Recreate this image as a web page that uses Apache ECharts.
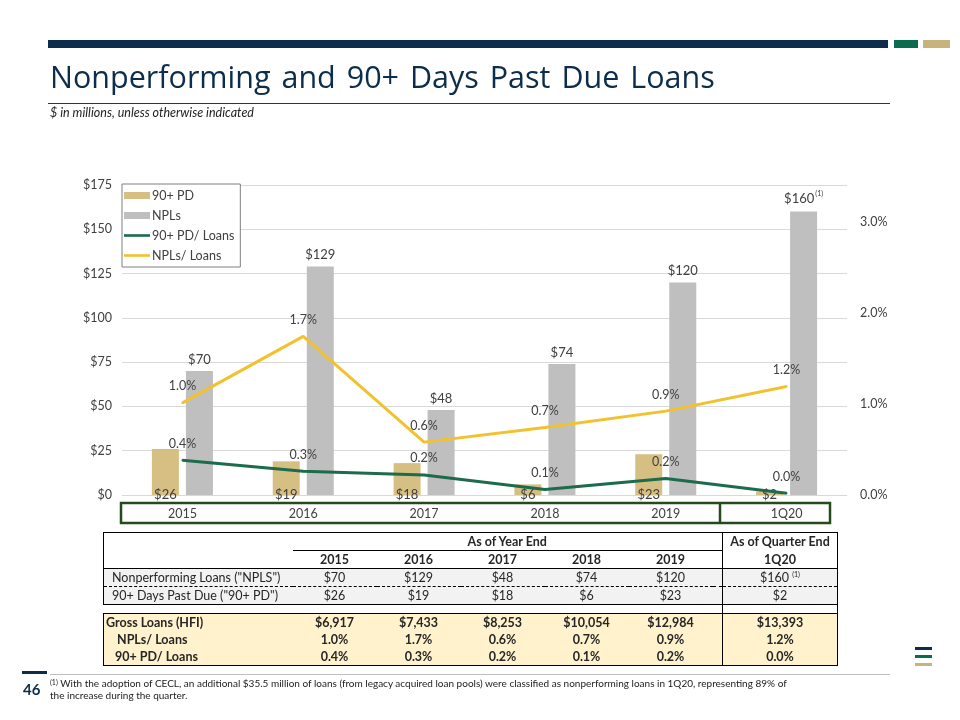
<!DOCTYPE html>
<html><head><meta charset="utf-8">
<script src="https://cdn.jsdelivr.net/npm/echarts@6.0.0/dist/echarts.min.js"></script>
<style>
body{margin:0;width:960px;height:720px;background:#fff;font-family:Lato,'Open Sans',sans-serif;overflow:hidden;position:relative;color:#222}
#chart{position:absolute;left:0;top:0;width:960px;height:720px}
.abs{position:absolute;z-index:2}
#tbl{position:absolute;left:103px;top:532px;z-index:2;border-collapse:collapse;table-layout:fixed;font-size:12.5px;color:#262626}
#tbl td{height:17px;padding:0;text-align:center;line-height:17px;white-space:nowrap}
#tbl td.lab{text-align:left}
sup{font-size:7px;vertical-align:top;line-height:10px}
</style></head><body>
<div id="chart"></div>
<div class="abs" style="left:48px;top:40px;width:840px;height:8px;background:#0C2D4C"></div>
<div class="abs" style="left:894px;top:40px;width:24px;height:8px;background:#0B6B4E"></div>
<div class="abs" style="left:923px;top:40px;width:27px;height:8px;background:#C8B47A"></div>
<div class="abs" style="left:50px;top:55px;font-family:'Open Sans',sans-serif;font-size:30.5px;color:#0C2D4C;word-spacing:3px;white-space:nowrap">Nonperforming and 90+ Days Past Due Loans</div>
<div class="abs" style="left:48px;top:103px;width:842px;height:1px;background:#333"></div>
<div class="abs" style="left:50px;top:105px;font-size:12.5px;font-style:italic;color:#222;white-space:nowrap">$ in millions, unless otherwise indicated</div>
<table id="tbl"></table>
<div class="abs" style="left:22px;top:671px;width:25px;height:3px;background:#0C2D4C"></div>
<div class="abs" style="left:50px;top:674px;width:840px;height:1px;background:#BFBFBF"></div>
<div class="abs" style="left:23px;top:680px;font-size:15px;font-weight:700;color:#0C2D4C">46</div>
<div class="abs" style="left:50px;top:677px;font-size:10px;line-height:12px;color:#222;white-space:nowrap"><sup>(1)</sup> With the adoption of CECL, an additional $35.5 million of loans (from legacy acquired loan pools) were classified as nonperforming loans in 1Q20, representing 89% of<br>the increase during the quarter.</div>
<div class="abs" style="left:915px;top:647px;width:17px;height:3px;background:#0C2D4C"></div>
<div class="abs" style="left:915px;top:655px;width:17px;height:3px;background:#0B6B4E"></div>
<div class="abs" style="left:915px;top:663px;width:17px;height:3px;background:#C8B47A"></div>
<script>
const categories = ['2015', '2016', '2017', '2018', '2019', '1Q20'];
const npls = [70, 129, 48, 74, 120, 160];
const pd90 = [26, 19, 18, 6, 23, 2];
const grossLoans = [6917, 7433, 8253, 10054, 12984, 13393];
const nplRatio = [1.01, 1.74, 0.58, 0.74, 0.92, 1.19];
const pdRatio = [0.38, 0.26, 0.22, 0.06, 0.18, 0.02];
const leftTicks = [0, 25, 50, 75, 100, 125, 150, 175];
const rightTicks = [0, 1, 2, 3];

const C = {gold:'#D6BF82', grey:'#BFBFBF', green:'#1B6B4C', yellow:'#F2C12E', txt:'#404040', navy:'#0C2D4C'};
const money = v => '$' + v.toLocaleString('en-US');
const pct = v => v.toFixed(1) + '%';

const chart = echarts.init(document.getElementById('chart'), null, {renderer:'canvas'});
chart.setOption({
  animation:false,
  textStyle:{fontFamily:'Lato, sans-serif'},
  grid:{left:122, right:113, top:185, bottom:225, containLabel:false},
  legend:{
    orient:'vertical', left:122, top:184, padding:[5,6,5,2], itemGap:7,
    borderColor:'#7F7F7F', borderWidth:1, backgroundColor:'#fff',
    itemWidth:26, itemHeight:7, textStyle:{fontSize:12.5, color:C.txt, padding:[0,0,0,-3]},
    data:[
      {name:'90+ PD', icon:'rect'},
      {name:'NPLs', icon:'rect'},
      {name:'90+ PD/ Loans', icon:'path://M0,0h30v3h-30z'},
      {name:'NPLs/ Loans', icon:'path://M0,0h30v3h-30z'}
    ]
  },
  xAxis:{type:'category', data:categories, axisLine:{show:false}, axisTick:{show:false},
    axisLabel:{color:C.txt, fontSize:12.5, margin:12}},
  yAxis:[
    {type:'value', min:leftTicks[0], max:leftTicks[leftTicks.length-1], interval:25,
      axisLabel:{color:C.txt, fontSize:12.5, margin:10, formatter:v=>'$'+v},
      splitLine:{lineStyle:{color:'#D9D9D9'}}, axisLine:{show:false}, axisTick:{show:false}},
    {type:'value', min:0, max:3.4, interval:1, position:'right',
      axisLabel:{color:C.txt, fontSize:12.5, margin:13, formatter:v=>rightTicks.includes(v)?v.toFixed(1)+'%':''},
      splitLine:{show:false}, axisLine:{show:false}, axisTick:{show:false}}
  ],
  series:[
    {name:'90+ PD', type:'bar', data:pd90, barWidth:27, barGap:'26%', itemStyle:{color:C.gold},
      label:{show:true, position:'bottom', distance:-7, color:C.txt, fontSize:13, formatter:p=>'$'+p.value}},
    {name:'NPLs', type:'bar', data:npls, barWidth:27, itemStyle:{color:C.grey},
      label:{show:true, position:'top', distance:5, color:C.txt, fontSize:13,
        formatter:p=> p.dataIndex===npls.length-1 ? '{v|$'+p.value+'}{s|(1)}' : '$'+p.value,
        rich:{v:{fontSize:13, color:C.txt}, s:{fontSize:7, color:C.txt, verticalAlign:'top', padding:[0,0,9,1]}}}},
    {name:'90+ PD/ Loans', type:'line', yAxisIndex:1, data:pdRatio, symbol:'circle', symbolSize:2,
      lineStyle:{color:C.green, width:3}, itemStyle:{color:C.green},
      label:{show:true, position:'top', distance:9, color:C.txt, fontSize:12.5, formatter:p=>pct(p.value)}},
    {name:'NPLs/ Loans', type:'line', yAxisIndex:1, data:nplRatio, symbol:'circle', symbolSize:2,
      lineStyle:{color:C.yellow, width:3}, itemStyle:{color:C.yellow},
      label:{show:true, position:'top', distance:9, color:C.txt, fontSize:12.5, formatter:p=>pct(p.value)}}
  ],
  graphic:[
    {type:'rect', shape:{x:121, y:503, width:709, height:20}, style:{fill:'none', stroke:'#254A1C', lineWidth:2.5}, z:10},
    {type:'line', shape:{x1:720, y1:503, x2:720, y2:523}, style:{stroke:'#254A1C', lineWidth:2.5}, z:10}
  ]
});

// Table
const tbl = document.getElementById('tbl');
const widths = [189, 84, 84, 84, 84, 84, 10, 115];
let html = '<colgroup>' + widths.map(w=>'<col style="width:'+w+'px">').join('') + '</colgroup>';
const B = '1px solid #000';
const yrs = categories.slice(0,5);
const q = categories[5];
// Row 1
html += '<tr style="border-top:'+B+'"><td style="border-left:'+B+'"></td>'+
  '<td colspan="6" style="font-weight:700;border-bottom:'+B+'">As of Year End</td>'+
  '<td style="font-weight:700;border-left:'+B+';border-right:'+B+'">As of Quarter End</td></tr>';
// Row 2
html += '<tr style="border-bottom:'+B+'"><td style="border-left:'+B+'"></td>' + yrs.map(y=>'<td style="font-weight:700">'+y+'</td>').join('') +
  '<td></td><td style="font-weight:700;border-left:'+B+';border-right:'+B+'">'+q+'</td></tr>';
// Row 3
html += '<tr style="background:#F2F2F2;border-bottom:1px dashed #000"><td class="lab" style="padding-left:8px;border-left:'+B+'">Nonperforming Loans ("NPLS")</td>' +
  npls.slice(0,5).map(v=>'<td>'+money(v)+'</td>').join('') + '<td></td><td style="border-left:'+B+';border-right:'+B+'">'+money(npls[5])+' <sup>(1)</sup></td></tr>';
// Row 4
html += '<tr style="background:#F2F2F2;border-bottom:'+B+'"><td class="lab" style="padding-left:8px;border-left:'+B+'">90+ Days Past Due ("90+ PD")</td>' +
  pd90.slice(0,5).map(v=>'<td>'+money(v)+'</td>').join('') + '<td></td><td style="border-left:'+B+';border-right:'+B+'">'+money(pd90[5])+'</td></tr>';
// Gap row
html += '<tr><td colspan="7" style="height:8px;line-height:8px"></td><td style="height:8px;line-height:8px;border-left:'+B+';border-right:'+B+'"></td></tr>';
// Rows 5-7
const bg = 'background:#FFF2CC;';
html += '<tr style="'+bg+'border-top:'+B+'"><td class="lab" style="font-weight:700;padding-left:2px;border-left:'+B+'">Gross Loans (HFI)</td>' +
  grossLoans.slice(0,5).map(v=>'<td style="font-weight:700">'+money(v)+'</td>').join('') + '<td></td><td style="font-weight:700;border-left:'+B+';border-right:'+B+'">'+money(grossLoans[5])+'</td></tr>';
html += '<tr style="'+bg+'"><td class="lab" style="font-weight:700;padding-left:13px;border-left:'+B+'">NPLs/ Loans</td>' +
  nplRatio.slice(0,5).map(v=>'<td style="font-weight:700">'+pct(v)+'</td>').join('') + '<td></td><td style="font-weight:700;border-left:'+B+';border-right:'+B+'">'+pct(nplRatio[5])+'</td></tr>';
html += '<tr style="'+bg+'border-bottom:'+B+'"><td class="lab" style="font-weight:700;padding-left:11px;border-left:'+B+'">90+ PD/ Loans</td>' +
  pdRatio.slice(0,5).map(v=>'<td style="font-weight:700">'+pct(v)+'</td>').join('') + '<td></td><td style="font-weight:700;border-left:'+B+';border-right:'+B+'">'+pct(pdRatio[5])+'</td></tr>';
tbl.innerHTML = html;
</script>
</body></html>
